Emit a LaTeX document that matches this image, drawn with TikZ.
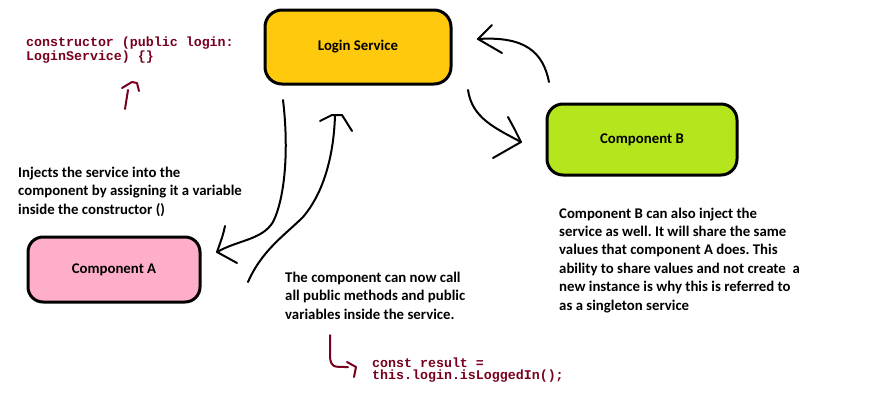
\documentclass[tikz,border=0pt]{standalone}
\usepackage{fontspec}
\setmainfont{Carlito}
\newfontfamily\codefont{Liberation Mono}
\definecolor{lsyellow}{RGB}{255,201,14}
\definecolor{cbgreen}{RGB}{181,230,29}
\definecolor{capink}{RGB}{255,174,201}
\definecolor{codered}{RGB}{120,0,30}
\frenchspacing
\begin{document}
\begin{tikzpicture}[x=1pt,y=-1pt,
  box/.style={draw=black,line width=3pt,rounded corners=17pt,inner sep=0pt,
    font=\fontsize{14.8}{17}\selectfont\bfseries},
  note/.style={anchor=base west,inner sep=0pt,align=left,
    font=\fontsize{14.8}{18.4}\selectfont\bfseries},
  code/.style={anchor=base west,inner sep=0pt,align=left,text=codered,
    font=\fontsize{13.3}{12}\selectfont\codefont\bfseries},
  hand/.style={line width=2pt,line cap=round,line join=round},
  redhand/.style={hand,draw=codered}]
\useasboundingbox[fill=white] (0,0) rectangle (892,413);
% boxes
\node[box,fill=lsyellow,minimum width=186pt,minimum height=74pt] (ls) at (358,47) {Login Service};
\node[box,fill=cbgreen,minimum width=190pt,minimum height=71pt,rounded corners=16pt] (cb) at (642,139.5) {Component B};
\node[box,fill=capink,minimum width=172pt,minimum height=65pt,rounded corners=15pt] (ca) at (114,269.5) {Component A};
% texts (anchored at the baseline of their last line)
\node[code] (c1) at (26,60) {constructor (public login:\\LoginService) \{\}};
\node[note] (n1) at (18,214) {Injects the service into the\\component by assigning it a variable\\inside the constructor ()};
\node[note] (n2) at (285,319) {The component can now call\\all public methods and public\\variables inside the service.};
\node[note] (n3) at (559,310) {Component B can also inject the\\service as well. It will share the same\\values that component A does. This\\ability to share values and not create\ \ a\\new instance is why this is referred to\\as a singleton service};
\node[code] (c2) at (372,379) {const result =\\this.login.isLoggedIn();};
% arrow coordinates
\coordinate (a1s) at (125,109); \coordinate (a1t) at (132,82);
\coordinate (a2s) at (283,100); \coordinate (a2t) at (217,252);
\coordinate (a3s) at (248,282); \coordinate (a3t) at (335,115);
\coordinate (a4s) at (549,82);  \coordinate (a4t) at (478,39);
\coordinate (a5s) at (468,90);  \coordinate (a5t) at (521,142);
\coordinate (a6s) at (330,335); \coordinate (a6t) at (356,367);
% arrow 1 (red, to constructor text)
\draw[redhand] (a1s) -- (128,90);
\draw[redhand] (a1t) ++(-10,6) -- (a1t) -- ++(5,1) -- ++(2,8);
% arrow 2 (service -> component A)
\draw[hand] (a2s) .. controls (289,150) and (285,198) .. (273,222)
  .. controls (262,240) and (238,240) .. (a2t);
\draw[hand] (a2t) ++(8,-26) .. controls (223,235) .. (a2t) -- ++(20,11);
% arrow 3 (component A -> service)
\draw[hand] (a3s) .. controls (262,250) and (285,235) .. (303,217)
  .. controls (326,190) and (334,150) .. (a3t);
\draw[hand] (a3t) ++(-15,6) -- ++(12,-6) -- ++(10,0) -- ++(10,16);
% arrow 4 (component B -> service)
\draw[hand] (a4s) .. controls (543,52) and (525,36) .. (a4t);
\draw[hand] (a4t) ++(14,-14) -- (a4t) -- ++(24,14);
% arrow 5 (service -> component B)
\draw[hand] (a5s) .. controls (472,118) and (495,128) .. (a5t);
\draw[hand] (a5t) ++(-13,-25) -- ++(7,13) -- (a5t) -- ++(-28,16);
% arrow 6 (red, to code)
\draw[redhand] (a6s) -- (330,358) .. controls (332,367) .. (348,367);
\draw[redhand] (a6t) ++(-9,-5) -- (a6t) -- ++(-2,10);
\end{tikzpicture}
\end{document}
